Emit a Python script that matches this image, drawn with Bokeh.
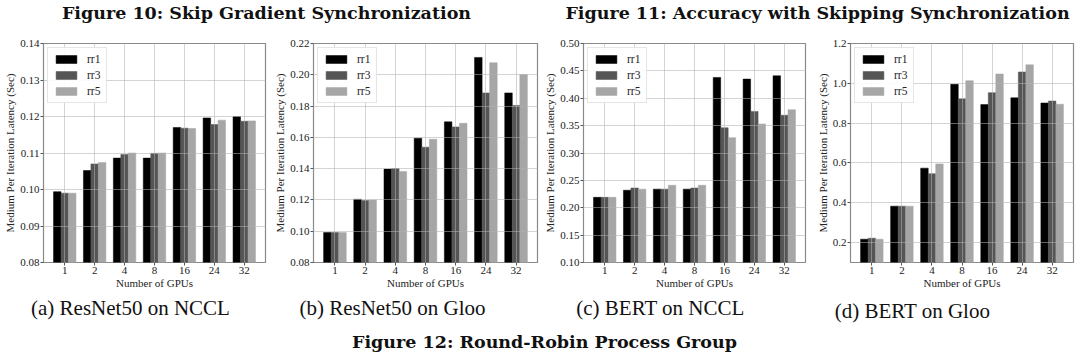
from bokeh.plotting import figure
from bokeh.models import ColumnDataSource, Range1d, FixedTicker, Legend, LegendItem
from bokeh.layouts import column, row
from bokeh.transform import dodge
from bokeh.core.properties import value
from bokeh.embed import file_html
from bokeh.resources import INLINE

# ---------------- data ----------------
gpus = ["1", "2", "4", "8", "16", "24", "32"]
series = ["rr1", "rr3", "rr5"]

resnet_nccl_rr1 = [0.0994, 0.1052, 0.1086, 0.1086, 0.1170, 0.1196, 0.1200]
resnet_nccl_rr3 = [0.0990, 0.1070, 0.1096, 0.1099, 0.1168, 0.1178, 0.1187]
resnet_nccl_rr5 = [0.0990, 0.1074, 0.1100, 0.1100, 0.1167, 0.1190, 0.1188]

resnet_gloo_rr1 = [0.0991, 0.1204, 0.1397, 0.1595, 0.1699, 0.2111, 0.1884]
resnet_gloo_rr3 = [0.0991, 0.1197, 0.1401, 0.1537, 0.1667, 0.1884, 0.1804]
resnet_gloo_rr5 = [0.0991, 0.1199, 0.1382, 0.1588, 0.1690, 0.2077, 0.2002]

bert_nccl_rr1 = [0.219, 0.232, 0.234, 0.234, 0.438, 0.435, 0.441]
bert_nccl_rr3 = [0.219, 0.236, 0.234, 0.236, 0.346, 0.376, 0.369]
bert_nccl_rr5 = [0.219, 0.234, 0.241, 0.241, 0.328, 0.353, 0.379]

bert_gloo_rr1 = [0.217, 0.383, 0.574, 0.995, 0.893, 0.927, 0.901]
bert_gloo_rr3 = [0.222, 0.383, 0.546, 0.922, 0.953, 1.057, 0.911]
bert_gloo_rr5 = [0.217, 0.383, 0.595, 1.013, 1.047, 1.093, 0.895]

ticks_a = [0.08, 0.09, 0.10, 0.11, 0.12, 0.13, 0.14]
ticks_b = [0.08, 0.10, 0.12, 0.14, 0.16, 0.18, 0.20, 0.22]
ticks_c = [0.10, 0.15, 0.20, 0.25, 0.30, 0.35, 0.40, 0.45, 0.50]
ticks_d = [0.2, 0.4, 0.6, 0.8, 1.0, 1.2]

x_label = "Number of GPUs"
y_label = "Medium Per Iteration Latency (Sec)"

top_titles = ["Figure 10: Skip Gradient Synchronization",
              "Figure 11: Accuracy with Skipping Synchronization"]
captions = ["(a) ResNet50 on NCCL", "(b) ResNet50 on Gloo",
            "(c) BERT on NCCL", "(d) BERT on Gloo"]
bottom_title = "Figure 12: Round-Robin Process Group"

# ---------------- style ----------------
colors = ["#000000", "#555555", "#a6a6a6"]
SERIF = "Liberation Serif"
BOLD_FONT = "DejaVu Serif"


def make_panel(vals, y0, y1, ticks, decimals, width, mbl, mbr, mbt, mbb, height=264):
    idx = list(range(len(gpus)))
    data = {"x": idx}
    for s, v in zip(series, vals):
        data[s] = v
    src = ColumnDataSource(data)
    p = figure(width=width, height=height, output_backend="svg", toolbar_location=None,
               x_range=Range1d(-0.71, len(gpus) - 1 + 0.71), y_range=Range1d(y0, y1),
               min_border_left=mbl, min_border_right=mbr, min_border_top=mbt,
               min_border_bottom=mbb)
    p.outline_line_color = "#8a8a8a"
    p.outline_line_width = 1.2
    p.background_fill_color = "white"
    p.border_fill_color = "white"

    offsets = [-0.25, 0.0, 0.25]
    items = []
    for s, c, off in zip(series, colors, offsets):
        r = p.vbar(x=dodge("x", off), top=s, bottom=0, width=0.25, source=src,
                   fill_color=c, line_color=c, line_width=0.5)
        items.append(LegendItem(label=s, renderers=[r]))

    # grids above bars
    for g in (p.xgrid[0], p.ygrid[0]):
        g.grid_line_color = "#b0b0b0"
        g.grid_line_alpha = 0.55
        g.grid_line_width = 1
        g.level = "annotation"
    p.xgrid.ticker = FixedTicker(ticks=idx)
    p.ygrid.ticker = FixedTicker(ticks=ticks)

    xa = p.xaxis[0]
    xa.ticker = FixedTicker(ticks=idx)
    xa.major_label_overrides = {i: g for i, g in enumerate(gpus)}
    ya = p.yaxis[0]
    ya.ticker = FixedTicker(ticks=ticks)
    ya.major_label_overrides = {t: f"{t:.{decimals}f}" for t in ticks}
    xa.axis_label = x_label
    ya.axis_label = y_label
    for ax in (xa, ya):
        ax.axis_line_color = None
        ax.major_tick_line_color = "#555555"
        ax.major_tick_out = 3
        ax.major_tick_in = 0
        ax.minor_tick_line_color = None
        ax.major_label_text_font = SERIF
        ax.major_label_text_font_size = "11px"
        ax.major_label_text_color = "#222222"
        ax.major_label_standoff = 1
        ax.axis_label_text_font = SERIF
        ax.axis_label_text_font_size = "11px"
        ax.axis_label_text_font_style = "normal"
        ax.axis_label_text_color = "#222222"
        ax.axis_label_standoff = 1
    xa.axis_label_standoff = 0

    leg = Legend(items=items, location="top_left", margin=4, padding=5,
                 glyph_width=26, glyph_height=10, label_standoff=8,
                 label_height=12, label_width=14, spacing=4,
                 label_text_font=SERIF, label_text_font_size="11.5px",
                 label_text_color="#222222",
                 border_line_color="#cccccc", border_line_width=1,
                 background_fill_color="white", background_fill_alpha=0.9)
    p.add_layout(leg, "center")
    return p


pa = make_panel([resnet_nccl_rr1, resnet_nccl_rr3, resnet_nccl_rr5], 0.08, 0.14, ticks_a, 2,
                270, 43, 5, 13, 32)
pb = make_panel([resnet_gloo_rr1, resnet_gloo_rr3, resnet_gloo_rr5], 0.08, 0.22, ticks_b, 2,
                270, 43, 3, 13, 32)
pc = make_panel([bert_nccl_rr1, bert_nccl_rr3, bert_nccl_rr5], 0.10, 0.50, ticks_c, 2,
                268, 43, 3, 13, 32)
pd = make_panel([bert_gloo_rr1, bert_gloo_rr3, bert_gloo_rr5], 0.1, 1.2, ticks_d, 1,
                272, 42, 7, 9, 29)


def text_fig(h):
    f = figure(width=1080, height=h, output_backend="svg", toolbar_location=None,
               x_range=Range1d(0, 1080), y_range=Range1d(0, h),
               x_axis_type=None, y_axis_type=None, min_border=0)
    f.grid.visible = False
    f.outline_line_color = None
    f.border_fill_color = "white"
    return f


top = text_fig(30)
top.text(x=[266, 817], y=[18, 18], text=top_titles, text_font=value(BOLD_FONT),
         text_font_style="bold", text_font_size="17.5px", text_align="center",
         text_baseline="middle", text_color="#111111")

bot = text_fig(60)
bot.text(x=[130, 392, 660, 912], y=[47, 47, 47, 44], text=captions,
         text_font=value(SERIF), text_font_size="21px", text_align="center",
         text_baseline="middle", text_color="#111111")
bot.text(x=[544], y=[13], text=[bottom_title], text_font=value(BOLD_FONT),
         text_font_style="bold", text_font_size="17.5px", text_align="center",
         text_baseline="middle", text_color="#111111")

layout = column(top, row(pa, pb, pc, pd), bot)

open("out.html", "w").write(file_html(layout, INLINE))
